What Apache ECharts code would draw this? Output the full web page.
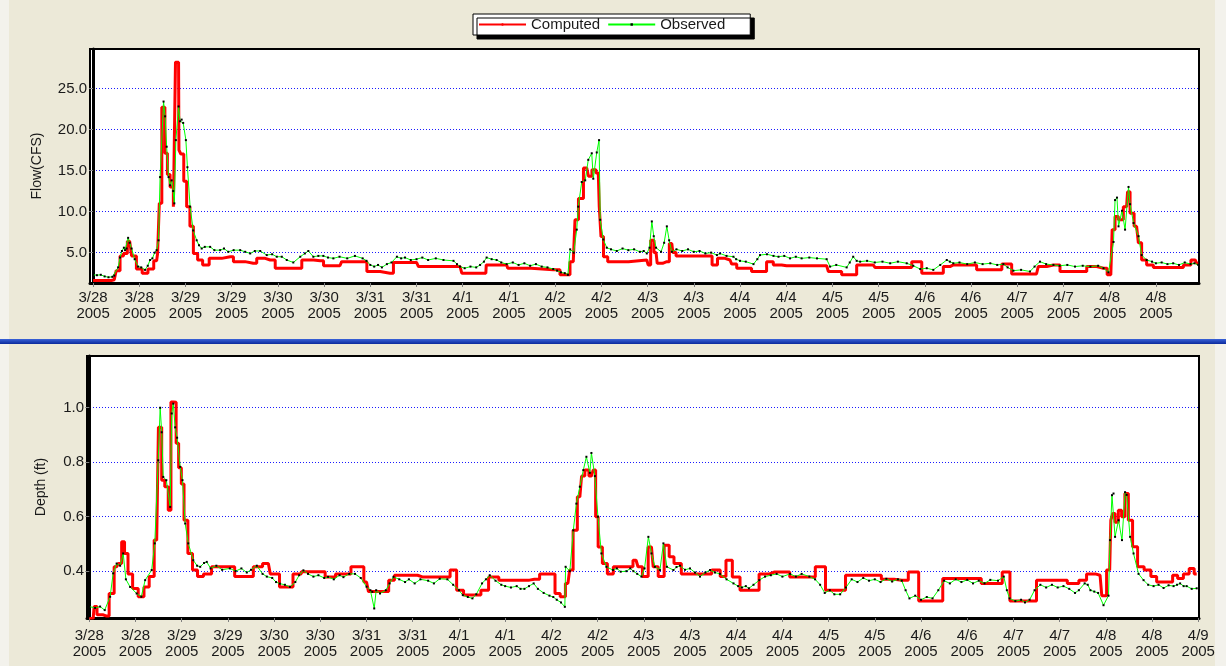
<!DOCTYPE html>
<html>
<head>
<meta charset="utf-8">
<title>Computed vs Observed</title>
<script src="https://cdn.jsdelivr.net/npm/echarts@6/dist/echarts.min.js"></script>
<style>
  html, body { margin: 0; padding: 0; background: #ece9d8; }
  #chart { width: 1226px; height: 666px; }
</style>
</head>
<body>
<div id="chart"></div>
<script>
// hours since 3/28/2005 00:00, one tick label every 12 hours
const dateLabels = ['3/28', '3/28', '3/29', '3/29', '3/30', '3/30', '3/31', '3/31',
  '4/1', '4/1', '4/2', '4/2', '4/3', '4/3', '4/4', '4/4', '4/5', '4/5',
  '4/6', '4/6', '4/7', '4/7', '4/8', '4/8', '4/9'];
const tickHours = dateLabels.map((d, i) => i * 12);
const flowTicks = [5, 10, 15, 20, 25];
const depthTicks = [0.4, 0.6, 0.8, 1.0];

// [hour, flow cfs]
const flowComputed = [
  [0, 1.6], [4, 1.6], [5.5, 1.7], [6.5, 2.8], [7.5, 4.6], [8.3, 4.9], [9.5, 6.4], [10.5, 4.6],
  [12, 3.0], [13.5, 2.5], [15, 3.0], [16.5, 4.0], [17, 4.9], [17.4, 11.0], [18.3, 22.7], [19, 17.1],
  [19.6, 14.5], [20.4, 13.0], [21.3, 10.6], [21.5, 28.2], [22.2, 28.2], [22.4, 17.5], [23.2, 17.0],
  [23.9, 13.7], [24.7, 10.6], [25.6, 8.2], [26.5, 4.9], [27.8, 4.1], [29.1, 3.5], [31.2, 4.3],
  [35.6, 4.5], [37.3, 3.9], [41.6, 3.7], [43.4, 4.3], [46, 4.1], [48.6, 3.1], [52.9, 3.1],
  [55.5, 4.1], [59, 4.0], [60.7, 3.4], [64.1, 3.4], [65, 3.9], [70.2, 3.9], [72, 2.7], [77.1, 2.5],
  [78.9, 3.8], [84, 3.8], [85, 3.3], [95.3, 3.3], [96.2, 2.5], [102, 2.5], [102.2, 3.5],
  [107.4, 3.5], [108, 3.1], [119.5, 2.9], [123, 2.3], [124.7, 3.9], [125.6, 9.0], [126.5, 11.6],
  [128.2, 15.3], [129.1, 14.3], [130, 15.1], [131.2, 14.7], [131.7, 10.6], [132.1, 6.95],
  [133, 4.5], [134.3, 3.9], [143.8, 4.1], [144.5, 3.5], [145.1, 6.5], [146.2, 5.0], [146.8, 3.7],
  [149, 3.9], [150.3, 6.1], [150.8, 5.0], [152, 4.6], [160, 4.6], [161.5, 3.5], [162.8, 4.3],
  [165.4, 4.1], [166.3, 3.6], [168, 3.1], [174, 2.7], [175.8, 3.9], [177.5, 3.5], [180.1, 3.4],
  [190.5, 3.4], [191.4, 2.7], [197.4, 2.3], [199.2, 3.5], [202.6, 3.5], [203.5, 3.2], [211.3, 3.2],
  [213.9, 3.9], [216.5, 2.5], [219.9, 2.5], [221.7, 3.3], [223.4, 3.5], [228.6, 3.5], [230.3, 2.9],
  [234.7, 2.9], [237.3, 3.6], [239.8, 2.4], [245, 2.4], [245.9, 3.3], [249.4, 3.5], [252.8, 2.7],
  [257.2, 2.7], [258.9, 3.3], [262.4, 3.1], [264.3, 2.3], [265, 7.8], [265.8, 9.4], [266.7, 9.0],
  [268.4, 10.6], [268.9, 12.4], [269.7, 9.8], [271, 8.2], [271.9, 6.2], [272.7, 4.1], [274.5, 3.5],
  [276.2, 3.2], [282.3, 3.2], [284, 3.5], [286.2, 4.1], [287, 3.7]
];

const flowObserved = [
  [0, 2.3], [1, 2.25], [2, 2.3], [3, 2.1], [4, 2.0], [5, 2.05], [5.5, 2.2], [6.5, 3.2], [7, 4.4],
  [7.5, 5.2], [8, 5.6], [8.3, 5.3], [8.7, 5.5], [9.1, 6.8], [9.5, 6.2], [10, 5.5], [10.8, 4.2],
  [11.7, 3.3], [12.5, 3.2], [13.5, 2.9], [14.2, 3.4], [14.8, 4.1], [15.4, 4.3], [16, 5.0],
  [16.5, 5.3], [17, 6.5], [17.4, 14.2], [18.3, 23.4], [18.7, 21.6], [19.1, 17.9], [19.6, 14.2],
  [20, 13.2], [20.4, 13.8], [20.8, 12.5], [21.1, 11.0], [21.5, 18.7], [22.2, 22.8], [22.6, 21.0],
  [23, 21.2], [23.4, 20.8], [24.1, 18.7], [24.5, 15.4], [25.2, 10.6], [26, 7.7], [26.9, 6.5],
  [27.5, 5.9], [28.2, 5.5], [29, 5.7], [30.4, 5.7], [31.5, 5.3], [33, 5.3], [34, 5.5], [35.1, 5.1],
  [36.5, 5.3], [38.2, 5.3], [39.5, 5.1], [40.8, 4.9], [42, 5.2], [43.4, 5.2], [45.1, 4.7],
  [46.5, 4.8], [47.7, 4.5], [49, 4.5], [50.3, 4.1], [52, 3.8], [53.8, 4.5], [55, 4.9], [55.9, 5.2],
  [57.2, 4.5], [58.5, 4.6], [59.8, 4.6], [61, 4.4], [62.4, 4.3], [64, 4.5], [66, 4.3], [68, 4.6],
  [70, 4.3], [71, 4.0], [72, 3.5], [73, 3.3], [74, 3.5], [75, 3.2], [76.3, 3.6], [77.5, 3.8],
  [78.9, 4.5], [80, 4.3], [81, 4.4], [82.5, 4.1], [84, 4.2], [85.5, 4.4], [87, 4.1], [89, 4.3],
  [91, 4.1], [93.6, 4.0], [94.5, 3.6], [95.3, 3.3], [96.5, 3.1], [98, 3.3], [99.5, 3.2],
  [100.5, 3.5], [101.5, 3.9], [102.2, 4.4], [103.5, 4.2], [104.8, 4.1], [106, 3.8], [107.4, 3.6],
  [109, 3.8], [110.5, 3.5], [112, 3.7], [113.5, 3.4], [115, 3.6], [116.5, 3.3], [118, 3.2],
  [119.5, 3.0], [120.5, 2.8], [121.5, 2.6], [122.5, 2.5], [123.3, 2.3], [123.9, 5.4], [124.8, 5.0],
  [125.6, 7.8], [126, 10.6], [126.9, 13.6], [127.8, 13.8], [128.6, 16.3], [129.5, 17.1],
  [129.9, 14.0], [130.8, 17.2], [131.4, 18.7], [131.7, 9.0], [132.5, 6.6], [133.4, 5.6],
  [134.5, 5.4], [136, 5.2], [137.5, 5.5], [139, 5.3], [140.5, 5.4], [142, 5.1], [143, 5.2],
  [143.8, 4.9], [144.5, 5.6], [145.1, 8.8], [145.6, 7.0], [146.2, 5.6], [147.5, 5.1], [148.3, 6.2],
  [149, 8.2], [149.6, 6.5], [150.3, 5.1], [151.5, 5.4], [153, 5.2], [154.5, 5.4], [156, 5.1],
  [157.5, 5.2], [159, 4.9], [160.5, 5.0], [162, 4.7], [162.8, 4.9], [164.5, 4.6], [166.3, 4.5],
  [167, 4.2], [168, 4.0], [169.5, 3.9], [171.5, 3.6], [172.5, 4.2], [173.2, 4.7], [175, 4.8],
  [176.7, 4.6], [178, 4.5], [179.5, 4.6], [181, 4.3], [182.5, 4.5], [184, 4.3], [186, 4.4],
  [188, 4.3], [190.5, 4.2], [191.4, 3.3], [193, 3.5], [195.7, 3.2], [196.5, 3.8], [197.4, 4.5],
  [198.3, 4.0], [199.2, 3.9], [201, 4.0], [203, 3.8], [205, 3.9], [207, 3.7], [209, 3.9],
  [211.3, 3.7], [213, 3.4], [214.8, 3.0], [216.5, 3.1], [218.2, 2.9], [220, 3.5], [221.7, 4.1],
  [222.5, 3.9], [223.4, 3.7], [225, 3.8], [227, 3.6], [229, 3.8], [231, 3.6], [233, 3.7],
  [234.8, 3.5], [236.4, 3.6], [237.5, 3.2], [239, 2.8], [241, 2.9], [243.3, 2.7], [244.5, 3.3],
  [245.9, 3.9], [247.5, 3.6], [249.4, 3.5], [251, 3.4], [253, 3.5], [255, 3.3], [257, 3.4],
  [259, 3.3], [261, 3.4], [262.4, 3.1], [263.7, 2.6], [265, 6.3], [265.4, 11.4], [265.9, 11.7],
  [266.3, 8.2], [267.2, 10.1], [268, 7.8], [268.9, 13.0], [269.3, 10.9], [270.2, 8.6], [271.5, 7.0],
  [272.3, 4.7], [273.6, 4.1], [275, 3.9], [276, 3.7], [277.5, 3.8], [279, 3.6], [280.5, 3.7],
  [282, 3.5], [283.5, 3.8], [285, 3.6], [286, 3.7], [287, 3.5]
];

// [hour, depth ft]
const depthComputed = [
  [0, 0.226], [1, 0.226], [1.5, 0.27], [2.5, 0.24], [4.5, 0.235], [5.8, 0.318], [7.1, 0.416],
  [8, 0.428], [8.8, 0.508], [9.5, 0.465], [10.6, 0.39], [11.9, 0.336], [13.5, 0.306], [14.9, 0.342],
  [16.2, 0.38], [17.5, 0.514], [18.4, 0.928], [19.2, 0.734], [20, 0.71], [21, 0.624], [21.4, 1.021],
  [22.3, 1.02], [22.8, 0.87], [23.6, 0.78], [24.2, 0.72], [25, 0.587], [26.2, 0.465], [27.4, 0.404],
  [28.8, 0.38], [30.5, 0.39], [33, 0.416], [36.5, 0.416], [39, 0.38], [41.7, 0.38], [43.5, 0.416],
  [46.5, 0.428], [47.5, 0.39], [51.3, 0.342], [54.5, 0.39], [55.6, 0.398], [59.9, 0.398],
  [62.6, 0.379], [65.3, 0.39], [70.6, 0.416], [72, 0.36], [73, 0.325], [77, 0.325], [78.5, 0.367],
  [80, 0.385], [84, 0.385], [86.5, 0.379], [93, 0.379], [94.4, 0.404], [96.4, 0.33], [98, 0.312],
  [101, 0.312], [102.4, 0.33], [105, 0.379], [107.7, 0.367], [113, 0.367], [115.6, 0.37],
  [118.3, 0.39], [120.3, 0.39], [121.6, 0.318], [123, 0.306], [124.3, 0.355], [125.2, 0.404],
  [126.1, 0.55], [127.4, 0.673], [128.3, 0.749], [129.1, 0.771], [130.4, 0.749], [131.3, 0.771],
  [131.7, 0.6], [132.6, 0.489], [133.9, 0.428], [135.2, 0.39], [137, 0.416], [140.4, 0.416],
  [142, 0.44], [143, 0.416], [144.3, 0.38], [146, 0.489], [146.9, 0.416], [148.6, 0.38],
  [150, 0.495], [151.2, 0.453], [152.5, 0.428], [155, 0.39], [157.8, 0.39], [160.3, 0.39],
  [163, 0.404], [164.7, 0.38], [166, 0.44], [168, 0.379], [170, 0.33], [172.6, 0.33],
  [175.3, 0.39], [178, 0.397], [180.6, 0.397], [183.2, 0.379], [187.2, 0.379], [189.9, 0.416],
  [192.5, 0.33], [195, 0.33], [197.8, 0.385], [204.4, 0.385], [207, 0.37], [211, 0.367],
  [214.4, 0.397], [216.4, 0.29], [220.3, 0.29], [223, 0.373], [231, 0.373], [232.3, 0.355],
  [236, 0.355], [238.2, 0.397], [240, 0.29], [244, 0.29], [248, 0.367], [252, 0.367],
  [256, 0.355], [258, 0.367], [260, 0.39], [262.5, 0.385], [263.4, 0.31], [265, 0.404],
  [265.6, 0.587], [266, 0.612], [266.8, 0.58], [267.7, 0.624], [268.5, 0.6], [269.4, 0.685],
  [270.3, 0.587], [271.6, 0.49], [272.9, 0.416], [275, 0.404], [276.4, 0.38], [278, 0.36],
  [280.7, 0.36], [282, 0.385], [283.3, 0.373], [285, 0.39], [286.3, 0.41], [287.6, 0.39]
];

const depthObserved = [
  [0, 0.27], [1.5, 0.265], [2.8, 0.27], [4, 0.257], [5.4, 0.306], [6.2, 0.392], [7.1, 0.428],
  [8, 0.42], [8.8, 0.465], [9.5, 0.37], [10.6, 0.342], [12.3, 0.318], [13.5, 0.306], [14.5, 0.367],
  [16.2, 0.404], [17, 0.502], [17.9, 0.807], [18.4, 1.0], [18.8, 0.91], [19.2, 0.746], [20, 0.734],
  [21, 0.636], [21.4, 0.979], [21.8, 1.015], [22.3, 0.928], [22.8, 0.89], [23.6, 0.783],
  [24.2, 0.734], [24.9, 0.575], [25.7, 0.502], [27, 0.44], [28, 0.42], [28.8, 0.416], [29.8, 0.43],
  [30.5, 0.434], [31.5, 0.41], [33, 0.42], [34.5, 0.405], [36.5, 0.41], [38, 0.40], [39.5, 0.41],
  [40.9, 0.395], [42, 0.405], [43.5, 0.42], [45, 0.39], [46.1, 0.38], [47.5, 0.375], [48.5, 0.36],
  [49.5, 0.354], [50.8, 0.35], [52.1, 0.342], [53.5, 0.36], [54.5, 0.385], [55.6, 0.403],
  [56.8, 0.39], [58.2, 0.38], [59.5, 0.385], [61, 0.375], [62, 0.379], [63.5, 0.37], [65, 0.385],
  [66, 0.378], [67.5, 0.39], [69, 0.39], [70.5, 0.375], [72, 0.343], [73, 0.33], [73.5, 0.324],
  [74, 0.263], [74.5, 0.33], [75.5, 0.318], [77, 0.33], [78, 0.355], [79, 0.379], [80.5, 0.37],
  [82, 0.36], [83, 0.37], [84.5, 0.355], [86, 0.37], [88, 0.365], [89.5, 0.355], [91, 0.372],
  [93, 0.37], [94.5, 0.35], [96, 0.33], [97, 0.312], [98.3, 0.305], [99.5, 0.30], [100.5, 0.315],
  [102, 0.355], [103, 0.37], [104, 0.385], [105.5, 0.365], [107, 0.35], [108, 0.345],
  [109.5, 0.34], [111, 0.345], [112, 0.335], [113, 0.335], [114.2, 0.345], [115.4, 0.355],
  [116.5, 0.335], [118, 0.32], [119.5, 0.31], [120.5, 0.305], [121.4, 0.295], [122.5, 0.285],
  [123.5, 0.269], [123.7, 0.416], [124.8, 0.4], [125.7, 0.55], [126.5, 0.648], [127.4, 0.71],
  [128.3, 0.771], [129.1, 0.82], [130, 0.761], [130.4, 0.834], [131.3, 0.749], [132.1, 0.60],
  [133, 0.465], [134.3, 0.416], [136, 0.404], [137, 0.41], [138, 0.398], [139.5, 0.40],
  [140.5, 0.41], [141.3, 0.40], [142.3, 0.39], [143.4, 0.38], [144.2, 0.41], [145.2, 0.526],
  [146, 0.465], [146.9, 0.416], [148.2, 0.404], [149.1, 0.502], [150, 0.416], [151.7, 0.404],
  [152.5, 0.415], [153.4, 0.42], [154.7, 0.405], [156, 0.41], [157.3, 0.395], [158.6, 0.38],
  [160, 0.395], [161.2, 0.404], [162.5, 0.395], [163.8, 0.39], [165.5, 0.37], [167.3, 0.355],
  [168.5, 0.345], [169.5, 0.34], [170.5, 0.345], [171.3, 0.337], [172.5, 0.35], [174, 0.367],
  [175.5, 0.38], [177, 0.385], [178.5, 0.39], [180, 0.38], [182, 0.39], [183.5, 0.38],
  [185, 0.39], [187, 0.38], [188.5, 0.37], [189.8, 0.35], [191, 0.32], [192.3, 0.33],
  [193.5, 0.315], [195, 0.315], [196.5, 0.34], [198, 0.37], [199.5, 0.36], [201, 0.375],
  [202.5, 0.365], [204, 0.37], [205.5, 0.36], [207, 0.372], [208.5, 0.362], [210, 0.37],
  [211, 0.365], [212, 0.33], [213, 0.30], [214.5, 0.31], [216, 0.295], [217.5, 0.305], [219, 0.3],
  [220.5, 0.33], [222, 0.365], [223.5, 0.355], [225, 0.37], [226.5, 0.36], [228, 0.368],
  [229.5, 0.355], [231, 0.365], [232.5, 0.355], [234, 0.368], [236, 0.365], [237.5, 0.38],
  [238.3, 0.33], [239, 0.30], [240.5, 0.29], [242, 0.295], [243, 0.285], [244.2, 0.295],
  [245.5, 0.33], [247, 0.35], [248.5, 0.34], [250, 0.35], [251.5, 0.34], [253, 0.345],
  [254.5, 0.335], [256, 0.32], [257, 0.33], [258.5, 0.355], [259.3, 0.35], [260, 0.33],
  [261, 0.325], [262, 0.32], [263.4, 0.275], [264.7, 0.31], [265.1, 0.514], [265.6, 0.679],
  [266, 0.685], [266.4, 0.526], [267.3, 0.587], [268.2, 0.514], [269, 0.69], [269.4, 0.68],
  [270.3, 0.526], [271.2, 0.465], [272.5, 0.39], [273.8, 0.367], [275, 0.35], [276.4, 0.345],
  [277.7, 0.35], [279, 0.338], [280.3, 0.348], [281.6, 0.345], [282.5, 0.35], [283.3, 0.355],
  [284.2, 0.345], [285, 0.345], [286.3, 0.335], [287.6, 0.337]
];

const FONT = '"Liberation Sans", Arial, sans-serif';
const TEXT = '#1a1a1a';

function xAxisFor(gridIndex, min, max, ticks, margin) {
  return {
    gridIndex: gridIndex,
    type: 'value',
    min: min,
    max: max,
    axisLine: { onZero: false, lineStyle: { color: '#000', width: 3 } },
    axisTick: { length: 4, lineStyle: { color: '#808080' }, customValues: ticks },
    axisLabel: {
      customValues: ticks,
      margin: margin,
      color: TEXT,
      fontFamily: FONT,
      fontSize: 15,
      lineHeight: 16,
      formatter: v => dateLabels[Math.round(v / 12)] + '\n2005'
    },
    splitLine: { show: false }
  };
}

function yAxisFor(gridIndex, min, max, ticks, name, nameGap) {
  return {
    gridIndex: gridIndex,
    type: 'value',
    min: min,
    max: max,
    name: name,
    nameLocation: 'middle',
    nameGap: nameGap,
    nameTextStyle: { color: TEXT, fontFamily: FONT, fontSize: 14 },
    axisLine: { show: true, lineStyle: { color: '#000', width: 3 } },
    axisTick: { show: true, length: 4, lineStyle: { color: '#808080' }, customValues: ticks },
    axisLabel: {
      customValues: ticks,
      margin: 3,
      color: TEXT,
      fontFamily: FONT,
      fontSize: 15,
      formatter: v => v.toFixed(1)
    },
    splitLine: { show: true, lineStyle: { color: '#1a1aff', width: 1, type: [1, 2] } }
  };
}

function computedSeries(axisIndex, data) {
  return {
    name: 'Computed',
    type: 'line',
    xAxisIndex: axisIndex,
    yAxisIndex: axisIndex,
    data: data,
    step: 'middle',
    symbol: 'none',
    lineStyle: { color: '#ff0000', width: 3 },
    itemStyle: { color: '#ff0000' },
    z: 2
  };
}

function observedSeries(axisIndex, data) {
  return {
    name: 'Observed',
    type: 'line',
    xAxisIndex: axisIndex,
    yAxisIndex: axisIndex,
    data: data,
    symbol: 'rect',
    symbolSize: 2,
    lineStyle: { color: '#00ff00', width: 1 },
    itemStyle: { color: '#000' },
    z: 3
  };
}

const chart = echarts.init(document.getElementById('chart'));

chart.setOption({
  animation: false,
  backgroundColor: '#ece9d8',
  textStyle: { fontFamily: FONT },
  graphic: [
    { type: 'rect', left: 0, top: 0, shape: { width: 9, height: 666 }, style: { fill: '#f3f2ec' }, silent: true },
    { type: 'rect', left: 1215, top: 0, shape: { width: 11, height: 666 }, style: { fill: '#f3f2ec' }, silent: true },
    {
      type: 'rect', left: 0, top: 339, shape: { width: 1226, height: 5 }, silent: true,
      style: {
        fill: new echarts.graphic.LinearGradient(0, 0, 0, 1, [
          { offset: 0, color: '#3a62d8' },
          { offset: 1, color: '#0a2a9c' }
        ])
      }
    }
  ],
  legend: {
    data: ['Computed', 'Observed'],
    left: 473,
    top: 14,
    padding: [3, 25, 3, 5],
    itemWidth: 47,
    itemHeight: 3,
    itemGap: 7,
    backgroundColor: '#fff',
    borderColor: '#000',
    borderWidth: 1,
    shadowColor: '#000',
    shadowBlur: 0,
    shadowOffsetX: 4,
    shadowOffsetY: 4,
    textStyle: { color: TEXT, fontFamily: FONT, fontSize: 15 }
  },
  grid: [
    { left: 90, right: 27, top: 49, height: 234, show: true, backgroundColor: '#fff', borderColor: '#000', borderWidth: 2 },
    { left: 87, right: 27, top: 356, height: 262, show: true, backgroundColor: '#fff', borderColor: '#000', borderWidth: 2 }
  ],
  xAxis: [
    xAxisFor(0, -0.8, 287.2, tickHours.slice(0, 24), 7),
    xAxisFor(1, -0.6, 288.2, tickHours, 10)
  ],
  yAxis: [
    yAxisFor(0, 1.3, 29.8, flowTicks, 'Flow(CFS)', 46),
    yAxisFor(1, 0.228, 1.19, depthTicks, 'Depth (ft)', 39)
  ],
  series: [
    computedSeries(0, flowComputed),
    observedSeries(0, flowObserved),
    computedSeries(1, depthComputed),
    observedSeries(1, depthObserved)
  ]
});
</script>
</body>
</html>
